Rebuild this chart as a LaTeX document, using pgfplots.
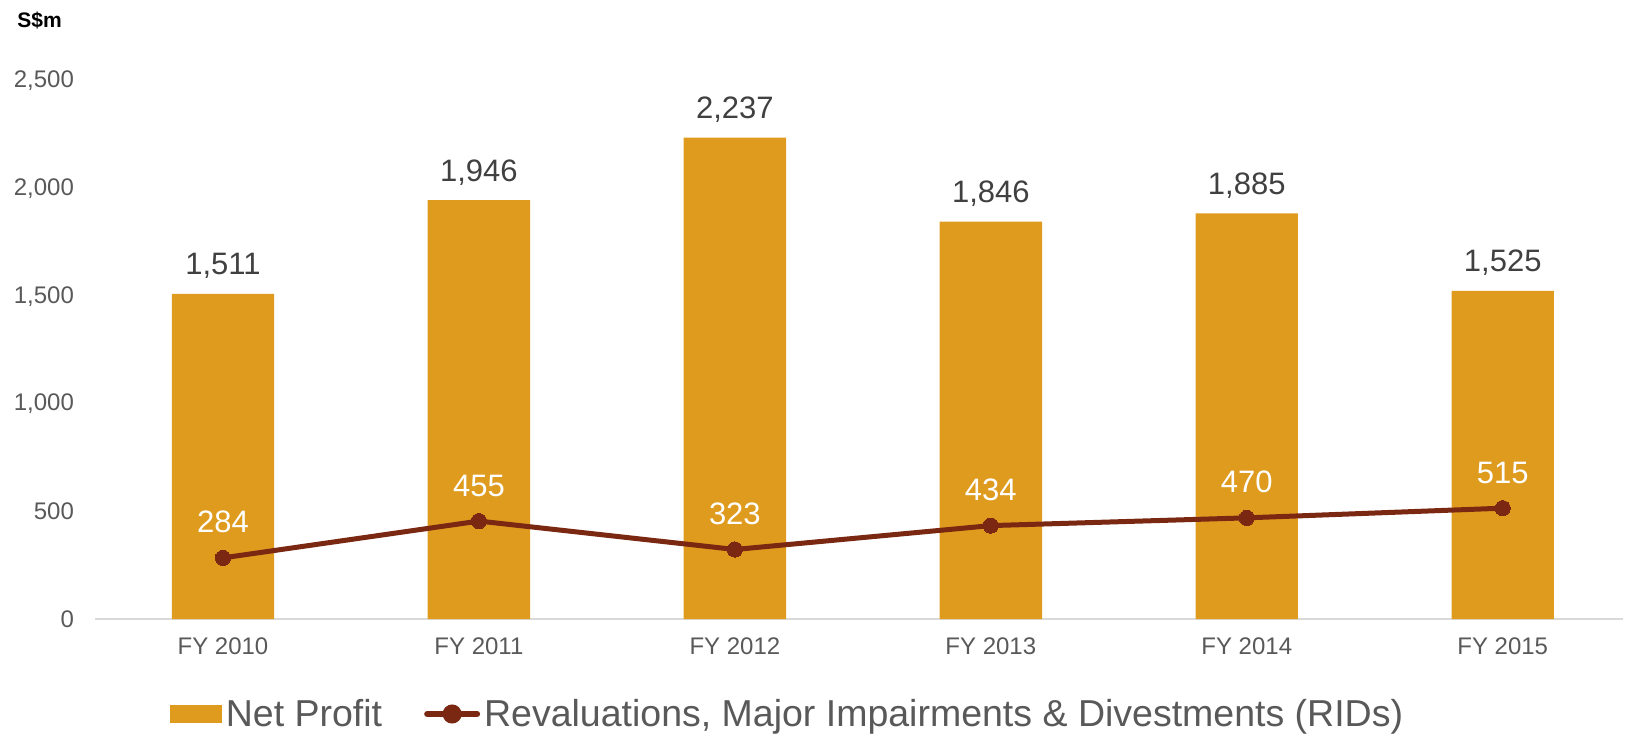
\documentclass[border=0pt]{standalone}
\usepackage{fontspec}
\setmainfont{Liberation Sans}
\usepackage{pgfplots}
\pgfplotsset{compat=1.18}
\definecolor{barc}{HTML}{DF9B1E}
\definecolor{linec}{HTML}{7A2812}
\definecolor{tickc}{HTML}{595959}
\definecolor{labc}{HTML}{404040}
\definecolor{axc}{HTML}{D9D9D9}
\begin{document}
\begin{tikzpicture}
\useasboundingbox (-47.5pt,-57.5pt) rectangle (767.5pt,309.5pt);
\begin{axis}[
    scale only axis,
    width=764pt, height=269pt,
    xmin=-0.5, xmax=5.47,
    ymin=0, ymax=2500,
    clip=false,
    axis x line*=bottom, axis y line*=left,
    x axis line style={-, draw=axc, line width=0.75pt},
    y axis line style={draw=none},
    major tick style={draw=none},
    xtick={0,...,5},
    xticklabels={FY 2010,FY 2011,FY 2012,FY 2013,FY 2014,FY 2015},
    ytick={0,500,...,2500},
    /pgf/number format/.cd, 1000 sep={,}, assume math mode=true, /pgfplots/.cd,
    tick label style={font=\fontsize{12}{14}\selectfont, text=tickc},
    y tick label style={xshift=-7pt},
    x tick label style={yshift=-6pt},
    legend columns=2,
    legend style={at={(0.454,-0.1766)}, anchor=center, draw=none,
        font=\fontsize{18.75}{22}\selectfont, text=tickc,
        nodes={inner sep=2pt},
        /tikz/every even column/.append style={column sep=19pt}},
]
\addplot[ybar, bar width=0.4, fill=barc, draw=none,
    nodes near coords,
    every node near coord/.append style={anchor=base, yshift=9.5pt, text=labc, font=\fontsize{15.5}{18}\selectfont},
    legend image code/.code={\fill[barc] (0pt,-4.5pt) rectangle (25.8pt,4.5pt);}]
    coordinates {(0,1511) (1,1946) (2,2237) (3,1846) (4,1885) (5,1525)};
\addlegendentry{Net Profit}
\addplot[linec, line width=2.5pt, mark=*, mark size=3.8pt,
    mark options={fill=linec, draw=linec, line width=0pt},
    nodes near coords,
    every node near coord/.append style={anchor=base, yshift=12.5pt, text=white, font=\fontsize{15.5}{18}\selectfont},
    legend image code/.code={\draw[linec, line width=3pt, line cap=round] (1.5pt,0pt) -- (26.5pt,0pt); \fill[linec] (14pt,0pt) circle (3.5pt);}]
    coordinates {(0,284) (1,455) (2,323) (3,434) (4,470) (5,515)};
\addlegendentry{Revaluations, Major Impairments \& Divestments (RIDs)}
\end{axis}
\node[anchor=west, font=\fontsize{10.5}{12}\selectfont\bfseries, inner sep=0pt] at (-39pt,299.5pt) {S\$m};
\end{tikzpicture}
\end{document}
